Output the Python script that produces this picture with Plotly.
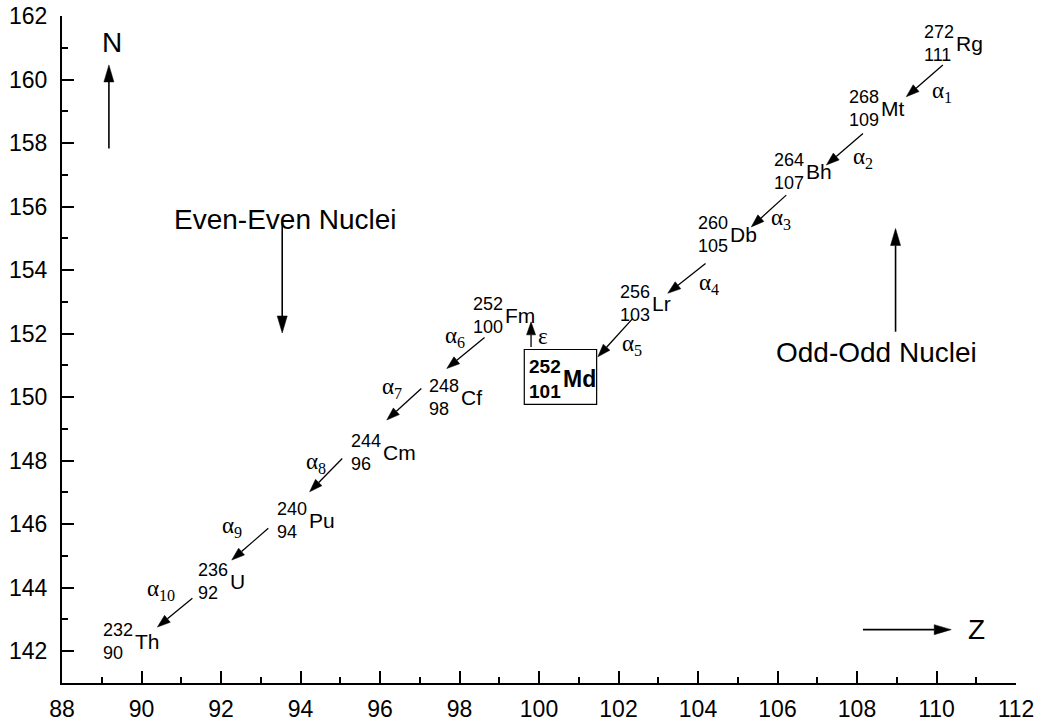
import math
import plotly.graph_objects as go

# ---------------- data ----------------
Z_vals = [90, 92, 94, 96, 98, 100, 101, 103, 105, 107, 109, 111]
A_vals = [232, 236, 240, 244, 248, 252, 252, 256, 260, 264, 268, 272]
symbols = ["Th", "U", "Pu", "Cm", "Cf", "Fm", "Md", "Lr", "Db", "Bh", "Mt", "Rg"]
N_vals = [a - z for a, z in zip(A_vals, Z_vals)]

# decay chain: (parent, daughter, mode label)
decay_parent = ["Rg", "Mt", "Bh", "Db", "Lr", "Md", "Fm", "Cf", "Cm", "Pu", "U"]
decay_daughter = ["Mt", "Bh", "Db", "Lr", "Md", "Fm", "Cf", "Cm", "Pu", "U", "Th"]
decay_mode = ["α<sub>1</sub>", "α<sub>2</sub>", "α<sub>3</sub>", "α<sub>4</sub>", "α<sub>5</sub>",
              "ε", "α<sub>6</sub>", "α<sub>7</sub>", "α<sub>8</sub>", "α<sub>9</sub>", "α<sub>10</sub>"]
highlight = "Md"

# ---------------- layout helpers (offsets in axis units) ----------------
label_off = {"Th": (-0.18, 0.32), "U": (0.21, 0.20), "Pu": (0.18, 0.13), "Cm": (0.04, 0.27),
             "Cf": (0.0, 0.0), "Fm": (-0.87, 0.58), "Md": (-0.43, -0.43), "Lr": (-0.17, -0.04),
             "Db": (-0.21, 0.13), "Bh": (-0.32, 0.09), "Mt": (-0.43, 0.10), "Rg": (-0.54, 0.15)}
tail_off = [(-0.84, -0.54), (-0.85, -0.70), (-0.78, -0.64), (-0.81, -0.79), (-0.64, -0.52),
            (-1.20, 0.58), (-1.37, -0.12), (-0.96, 0.27), (-0.95, 0.07), (-0.81, -0.13), (-0.72, -0.33)]
tip_off = [(0.24, 0.46), (0.23, 0.31), (0.34, 0.36), (0.24, 0.27), (0.48, 0.27),
           (-0.20, 0.37), (-0.32, 0.90), (0.17, 1.28), (0.23, 1.02), (0.27, 0.87), (0.40, 0.76)]
mode_off = [(0.45, -0.36), (0.47, -0.27), (0.32, -0.26), (0.57, -0.18), (0.43, -0.24),
            (0.29, -0.08), (-0.26, 0.51), (-0.31, 0.50), (-0.24, 0.37), (-0.46, 0.53), (-0.34, 0.70)]

SANS = "Liberation Sans, Arial, sans-serif"
SERIF = "Liberation Serif, Times New Roman, serif"

W, H = 1040, 723
M = dict(l=62, r=24, t=16, b=40)
X_RANGE = [88, 112]
Y_RANGE = [141, 162]
# pixels per axis unit (used only to shape arrowheads)
SX = (W - M["l"] - M["r"]) / (X_RANGE[1] - X_RANGE[0])
SY = (H - M["t"] - M["b"]) / (Y_RANGE[1] - Y_RANGE[0])

pos = {s: (z, n) for s, z, n in zip(symbols, Z_vals, N_vals)}

fig = go.Figure()
fig.add_trace(go.Scatter(x=Z_vals, y=N_vals, mode="markers", marker=dict(opacity=0),
                         hoverinfo="x+y", showlegend=False))


def add_arrow(x0, y0, x1, y1, width, head_len, head_half):
    px, py = (x1 - x0) * SX, (y1 - y0) * SY
    d = math.hypot(px, py)
    ux, uy = px / d, py / d
    bx, by = x1 - head_len * ux / SX, y1 - head_len * uy / SY
    lx, ly = bx - head_half * uy / SX, by + head_half * ux / SY
    rx, ry = bx + head_half * uy / SX, by - head_half * ux / SY
    fig.add_trace(go.Scatter(x=[x0, bx], y=[y0, by], mode="lines", hoverinfo="skip",
                             showlegend=False, line=dict(color="black", width=width)))
    fig.add_trace(go.Scatter(x=[x1, lx, rx, x1], y=[y1, ly, ry, y1], mode="lines",
                             fill="toself", fillcolor="black", hoverinfo="skip",
                             showlegend=False, line=dict(color="black", width=0.5)))


annotations = []
shapes = []
for s, z, n, a in zip(symbols, Z_vals, N_vals, A_vals):
    dx, dy = label_off[s]
    bold = s == highlight
    num_txt = f"{a}<br>{z}"
    if bold:
        num_txt = f"<b>{a}</b><br><b>{z}</b>"
    annotations.append(dict(x=z + dx, y=n + dy, xref="x", yref="y", text=num_txt,
                            align="left", xanchor="right", yanchor="middle", showarrow=False,
                            borderpad=0,
                            font=dict(family=SANS, size=19 if bold else 18, color="black")))
    annotations.append(dict(x=z + dx, y=n + dy, xref="x", yref="y",
                            text=f"<b>{s}</b>" if bold else s,
                            xanchor="left", yanchor="middle", showarrow=False, borderpad=0,
                            font=dict(family=SANS, size=23 if bold else 21, color="black")))
    if bold:
        shapes.append(dict(type="rect", xref="x", yref="y",
                           x0=z + dx - 0.94, x1=z + dx + 0.88, y0=n + dy - 0.80, y1=n + dy + 0.93,
                           line=dict(color="black", width=1.2)))

for i, (p, d, m) in enumerate(zip(decay_parent, decay_daughter, decay_mode)):
    pz, pn = pos[p]
    dz, dn = pos[d]
    tx, ty = pz + tail_off[i][0], pn + tail_off[i][1]
    hx, hy = dz + tip_off[i][0], dn + tip_off[i][1]
    add_arrow(tx, ty, hx, hy, 1.3, 13, 4.5)
    mx, my = (tx + hx) / 2 + mode_off[i][0], (ty + hy) / 2 + mode_off[i][1]
    annotations.append(dict(x=mx, y=my, xref="x", yref="y", text=m, showarrow=False,
                            xanchor="center", yanchor="middle",
                            font=dict(family=SERIF, size=23, color="black")))

# axis-direction and group labels
big_text = ["N", "Z", "Even-Even Nuclei", "Odd-Odd Nuclei"]
big_xy = [(89.26, 161.18), (111.0, 142.69), (93.61, 155.6), (108.48, 151.39)]
big_arrows = [((89.18, 157.83), (89.18, 160.46)), ((108.15, 142.68), (110.37, 142.68)),
              ((93.54, 155.48), (93.54, 152.02)), ((108.97, 152.06), (108.97, 155.31))]
for t, (x, y) in zip(big_text, big_xy):
    annotations.append(dict(x=x, y=y, xref="x", yref="y", text=t, showarrow=False,
                            xanchor="center", yanchor="middle",
                            font=dict(family=SANS, size=28, color="black")))
for (t0, t1) in big_arrows:
    add_arrow(t0[0], t0[1], t1[0], t1[1], 1.6, 17, 5)

axis_common = dict(showline=True, linewidth=2, linecolor="black", showgrid=False, zeroline=False,
                   ticks="inside", ticklen=12, tickwidth=2, tickcolor="black", automargin=False,
                   ticklabeloverflow="allow",
                   tickfont=dict(family=SANS, size=23, color="black"),
                   minor=dict(dtick=1, ticks="inside", ticklen=6, tickwidth=2, tickcolor="black",
                              showgrid=False))

fig.update_xaxes(range=X_RANGE, tick0=88, dtick=2, ticklabelstandoff=4, **axis_common)
fig.update_yaxes(range=Y_RANGE, tick0=142, dtick=2, ticklabelstandoff=8, **axis_common)

fig.update_layout(width=W, height=H, margin=M,
                  plot_bgcolor="white", paper_bgcolor="white", showlegend=False,
                  annotations=annotations, shapes=shapes)

# remove the default 8px page margin so the figure fills the window exactly
fig.write_html("out.html", config={"displayModeBar": False},
               post_script="document.body.style.margin='0px';")
